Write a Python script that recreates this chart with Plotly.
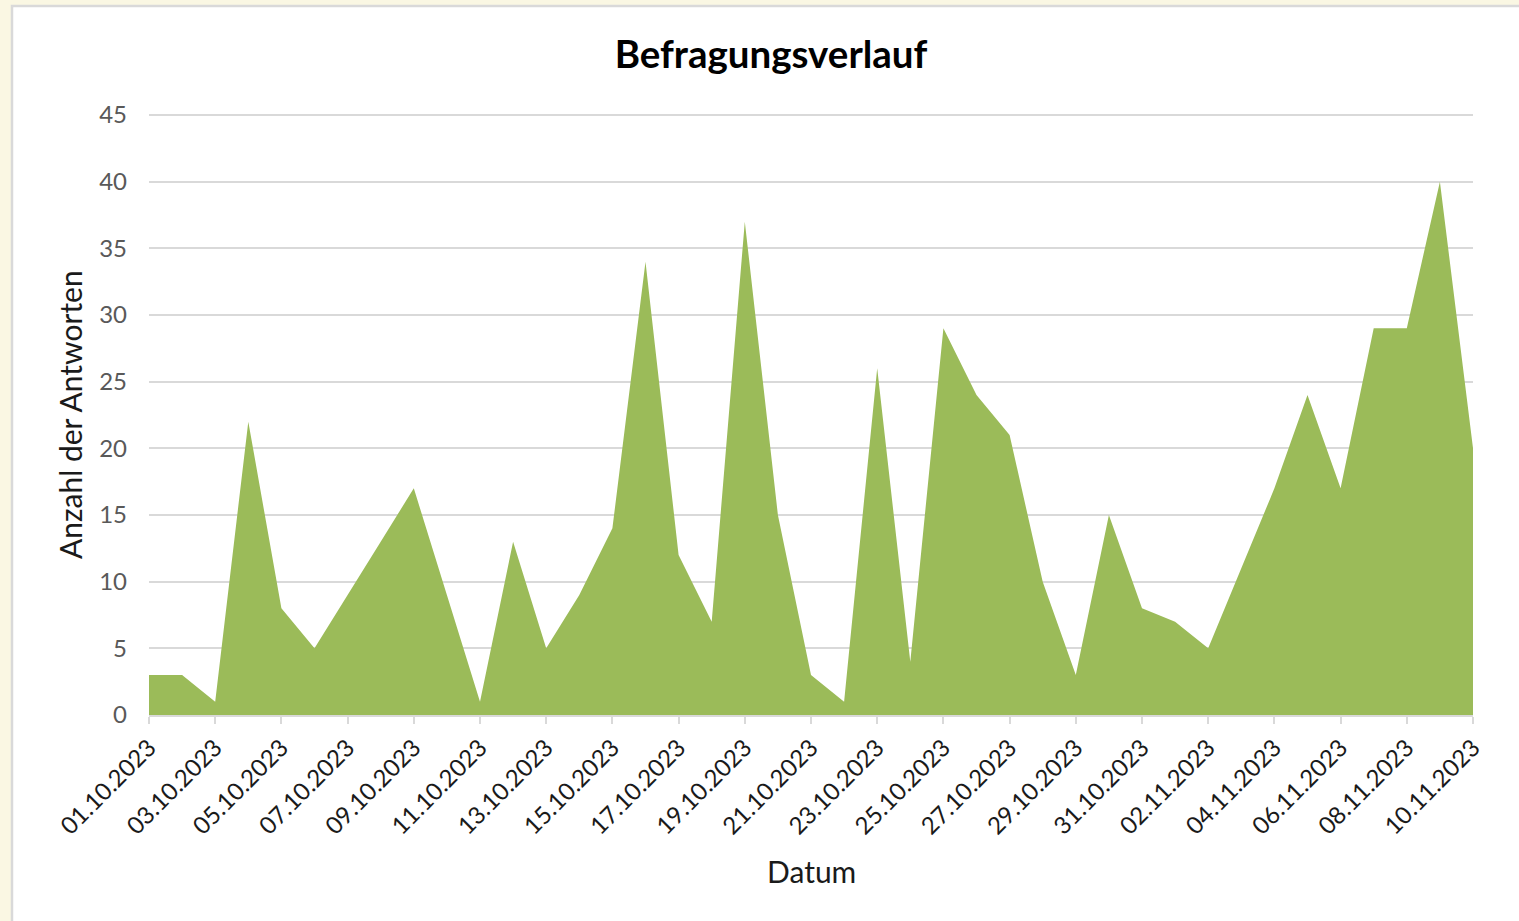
import plotly.graph_objects as go
import pandas as pd

# Data
dates = pd.date_range("2023-10-01", "2023-11-10", freq="D").strftime("%Y-%m-%d").tolist()
antworten = [3, 3, 1, 22, 8, 5, 9, 13, 17, 9,
             1, 13, 5, 9, 14, 34, 12, 7, 37, 15,
             3, 1, 26, 4, 29, 24, 21, 10, 3, 15,
             8, 7, 5, 11, 17, 24, 17, 29, 29, 40,
             20]
tick_dates = dates[::2]
tick_labels = [pd.Timestamp(d).strftime("%d.%m.%Y") for d in tick_dates]
y_ticks = [0, 5, 10, 15, 20, 25, 30, 35, 40, 45]

W, H = 1519, 921
Y_MAX = 45.3
L, R, B = 149, 1473, 715
T = round(B - Y_MAX * (600 / 45))
pw, ph = R - L, B - T

def px_x(x):
    return (x - L) / pw

def px_y(y):
    return (B - y) / ph

fig = go.Figure()
fig.add_trace(go.Scatter(
    x=dates, y=antworten, mode="none", fill="tozeroy",
    fillcolor="#9BBB59", hoverinfo="skip", showlegend=False,
))

fig.update_layout(
    width=W, height=H,
    margin=dict(l=L, r=W - R, t=T, b=H - B, autoexpand=False),
    paper_bgcolor="#faf7e3",
    plot_bgcolor="white",
    font=dict(family="Lato, Carlito, sans-serif", color="#595959"),
    title=dict(text="<b>Befragungsverlauf</b>", x=771 / W, y=1 - 55 / H,
               xanchor="center", yanchor="middle",
               font=dict(size=38.5, color="#000000", family="Lato, sans-serif")),
    shapes=[dict(type="rect", xref="paper", yref="paper",
                 x0=px_x(12), x1=px_x(1560), y0=px_y(980), y1=px_y(6),
                 fillcolor="white", line=dict(color="#d9d9d9", width=2.5),
                 layer="below")],
    annotations=[
        dict(text="Anzahl der Antworten", xref="paper", yref="paper",
             x=px_x(70), y=px_y(415), textangle=-90, showarrow=False,
             xanchor="center", yanchor="middle",
             font=dict(size=30, color="#1a1a1a")),
        dict(text="Datum", xref="paper", yref="paper",
             x=px_x(811), y=px_y(871), showarrow=False,
             xanchor="center", yanchor="middle",
             font=dict(size=30, color="#1a1a1a")),
    ],
    xaxis=dict(
        type="date", range=[dates[0], dates[-1]],
        tickvals=tick_dates, ticktext=tick_labels, tickangle=-45,
        tickfont=dict(size=24, color="#1a1a1a"),
        showgrid=False, showline=True, linecolor="#d9d9d9", linewidth=2,
        ticks="outside", ticklen=7, tickcolor="#d9d9d9", tickwidth=2,
        zeroline=False,
    ),
    yaxis=dict(
        range=[0, Y_MAX], tickvals=y_ticks,
        tickfont=dict(size=24, color="#595959"),
        showgrid=True, gridcolor="#d9d9d9", gridwidth=2,
        zeroline=False, showline=False, ticks="",
        ticklabelstandoff=21,
    ),
    hovermode=False,
)

fig.write_html("out.html",
               config={"displayModeBar": False},
               post_script="document.body.style.margin='0';document.body.style.overflow='hidden';")
